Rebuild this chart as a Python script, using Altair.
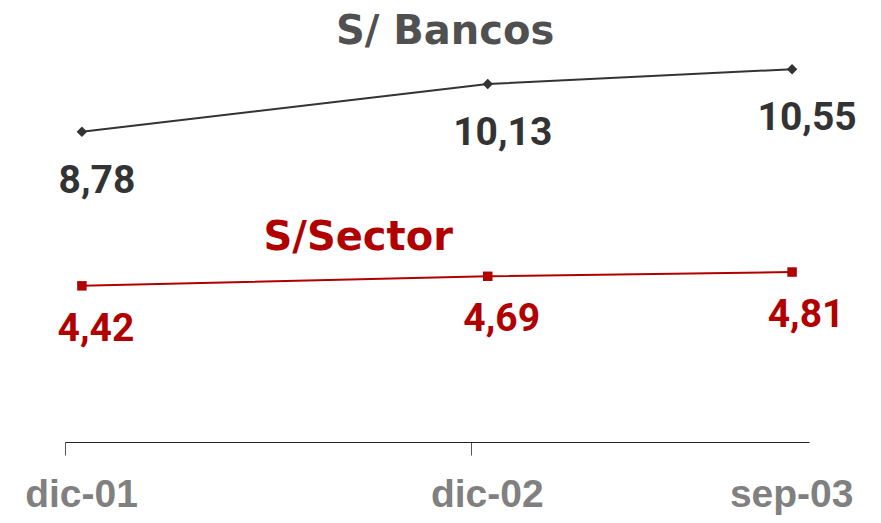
import altair as alt
import pandas as pd

# ---- data ----
fechas = ["dic-01", "dic-02", "sep-03"]
meses = [0, 12, 21]              # months since dic-01 (axis is time-proportional)
bancos = [8.78, 10.13, 10.55]
sector = [4.42, 4.69, 4.81]

series_names = ["S/ Bancos", "S/Sector"]
series_label_x = [10.74, 8.17]   # annotation anchor (months)
series_label_y = [11.61, 5.76]   # annotation anchor (value)

GRIS = "#333333"
ROJO = "#b00000"

def fmt(v):
    return f"{v:.2f}".replace(".", ",")

df_b = pd.DataFrame({"mes": meses, "valor": bancos, "txt": [fmt(v) for v in bancos]})
df_s = pd.DataFrame({"mes": meses, "valor": sector, "txt": [fmt(v) for v in sector]})
df_names = pd.DataFrame({"mes": series_label_x, "valor": series_label_y, "name": series_names})

# axis ticks sit on month boundaries (half a month before each date)
tick_vals = [m - 0.5 for m in meses]
label_expr = " : ".join(
    [f"datum.value < {tick_vals[i+1]} ? '{fechas[i]}'" for i in range(len(fechas) - 1)]
    + [f"'{fechas[-1]}'"]
)

x_scale = alt.Scale(domain=[-0.5, 21.5], nice=False, zero=False)
y_scale = alt.Scale(domain=[0, 12], nice=False, zero=True)

x_axis = alt.Axis(
    values=tick_vals,
    labelExpr=label_expr,
    title=None,
    grid=False,
    domainColor="#222222",
    domainWidth=1.2,
    tickColor={"condition": {"test": f"datum.value > {tick_vals[1]}", "value": "transparent"},
               "value": "#555555"},
    tickSize=13,
    tickWidth=1,
    labelOffset=16,
    labelPadding=51,
    labelFont="Liberation Sans",
    labelFontWeight="bold",
    labelFontSize=39,
    labelColor="#808080",
    labelFlush=False,
    labelOverlap=False,
    labelBaseline="alphabetic",
)

base_b = alt.Chart(df_b).encode(
    x=alt.X("mes:Q", scale=x_scale, axis=x_axis),
    y=alt.Y("valor:Q", scale=y_scale, axis=None),
)
base_s = alt.Chart(df_s).encode(
    x=alt.X("mes:Q", scale=x_scale),
    y=alt.Y("valor:Q", scale=y_scale),
)

line_b = base_b.mark_line(color=GRIS, strokeWidth=2)
pts_b = base_b.mark_point(shape="diamond", filled=True, color=GRIS, size=110, opacity=1)
txt_b = base_b.mark_text(font="Roboto", fontWeight="bold", fontSize=39, color=GRIS,
                         dx=15, dy=49, baseline="middle").encode(text="txt:N")

line_s = base_s.mark_line(color=ROJO, strokeWidth=2)
pts_s = base_s.mark_point(shape="square", filled=True, color=ROJO, size=90, opacity=1)
txt_s = base_s.mark_text(font="Roboto", fontWeight="bold", fontSize=39, color=ROJO,
                         dx=14, dy=43, baseline="middle").encode(text="txt:N")

names = alt.Chart(df_names).mark_text(font="DejaVu Sans", fontWeight="bold", fontSize=40,
                                      baseline="middle").encode(
    x=alt.X("mes:Q", scale=x_scale),
    y=alt.Y("valor:Q", scale=y_scale),
    text="name:N",
    color=alt.Color("name:N", scale=alt.Scale(domain=series_names, range=["#505050", ROJO]),
                    legend=None),
)

chart = alt.layer(line_b, pts_b, txt_b, line_s, pts_s, txt_s, names).properties(
    width=744,
    height=424,
    background="white",
    autosize=alt.AutoSizeParams(type="none"),
    padding={"left": 57, "top": 10, "right": 64, "bottom": 73},
).configure_view(strokeWidth=0, stroke="transparent")

chart.save("out.html", embed_options={"renderer": "svg", "actions": False})
